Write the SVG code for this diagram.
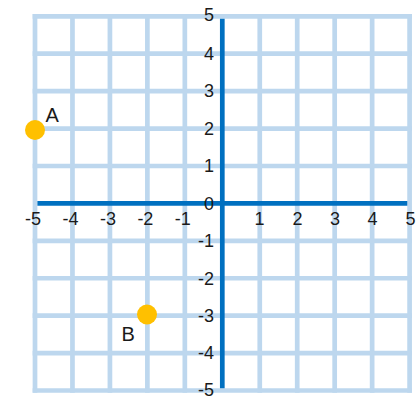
<svg xmlns="http://www.w3.org/2000/svg" width="416" height="399" viewBox="0 0 416 399">
<style>
.grid line{stroke:#bdd7ee;stroke-width:4.7;stroke-linecap:square}
.axis{stroke:#0070c0;stroke-width:4.7;stroke-linecap:butt}
.num{font-family:"Liberation Sans",Arial,sans-serif;font-size:18px;fill:#1a1a1a}
.xn{text-anchor:end}
.xp{text-anchor:middle}
.yn{text-anchor:end}
.lbl{font-family:"Liberation Sans",Arial,sans-serif;font-size:20px;fill:#1a1a1a}
.pt{fill:#ffc000}
</style>
<rect width="416" height="399" fill="#ffffff"/>
<g id="grid" class="grid">
<line x1="35" y1="16.3" x2="35" y2="390.5"/>
<line x1="72.46" y1="16.3" x2="72.46" y2="390.5"/>
<line x1="109.92" y1="16.3" x2="109.92" y2="390.5"/>
<line x1="147.38" y1="16.3" x2="147.38" y2="390.5"/>
<line x1="184.84" y1="16.3" x2="184.84" y2="390.5"/>
<line x1="259.76" y1="16.3" x2="259.76" y2="390.5"/>
<line x1="297.22" y1="16.3" x2="297.22" y2="390.5"/>
<line x1="334.68" y1="16.3" x2="334.68" y2="390.5"/>
<line x1="372.14" y1="16.3" x2="372.14" y2="390.5"/>
<line x1="409.6" y1="16.3" x2="409.6" y2="390.5"/>
<line x1="35" y1="16.3" x2="409.6" y2="16.3"/>
<line x1="35" y1="53.72" x2="409.6" y2="53.72"/>
<line x1="35" y1="91.14" x2="409.6" y2="91.14"/>
<line x1="35" y1="128.56" x2="409.6" y2="128.56"/>
<line x1="35" y1="165.98" x2="409.6" y2="165.98"/>
<line x1="35" y1="240.82" x2="409.6" y2="240.82"/>
<line x1="35" y1="278.24" x2="409.6" y2="278.24"/>
<line x1="35" y1="315.66" x2="409.6" y2="315.66"/>
<line x1="35" y1="353.08" x2="409.6" y2="353.08"/>
<line x1="35" y1="390.5" x2="409.6" y2="390.5"/>
</g>
<g id="axes">
<line class="axis" x1="37.4" y1="203.4" x2="407.3" y2="203.4"/>
<line class="axis" x1="222.3" y1="18.7" x2="222.3" y2="388.3"/>
</g>
<g id="x-labels" class="num">
<text class="xn" x="41" y="225">-5</text>
<text class="xn" x="78.5" y="225">-4</text>
<text class="xn" x="116" y="225">-3</text>
<text class="xn" x="153.4" y="225">-2</text>
<text class="xn" x="190.8" y="225">-1</text>
<text class="xp" x="259.5" y="225">1</text>
<text class="xp" x="297.5" y="225">2</text>
<text class="xp" x="335" y="225">3</text>
<text class="xp" x="372.5" y="225">4</text>
<text class="xp" x="410.5" y="225">5</text>
</g>
<g id="y-labels" class="num">
<text class="yn" x="214" y="20.5">5</text>
<text class="yn" x="214" y="60">4</text>
<text class="yn" x="214" y="97.4">3</text>
<text class="yn" x="214" y="134.8">2</text>
<text class="yn" x="214" y="172.2">1</text>
<text class="yn" x="214" y="209.6">0</text>
<text class="yn" x="214" y="247">-1</text>
<text class="yn" x="214" y="284.5">-2</text>
<text class="yn" x="214" y="321.9">-3</text>
<text class="yn" x="214" y="359.3">-4</text>
<text class="yn" x="214" y="395.5">-5</text>
</g>
<g id="point-A">
<circle class="pt" cx="35" cy="130" r="10"/>
<text class="lbl" x="45.5" y="122">A</text>
</g>
<g id="point-B">
<circle class="pt" cx="147" cy="314.5" r="10"/>
<text class="lbl" x="121.5" y="341">B</text>
</g>
</svg>
